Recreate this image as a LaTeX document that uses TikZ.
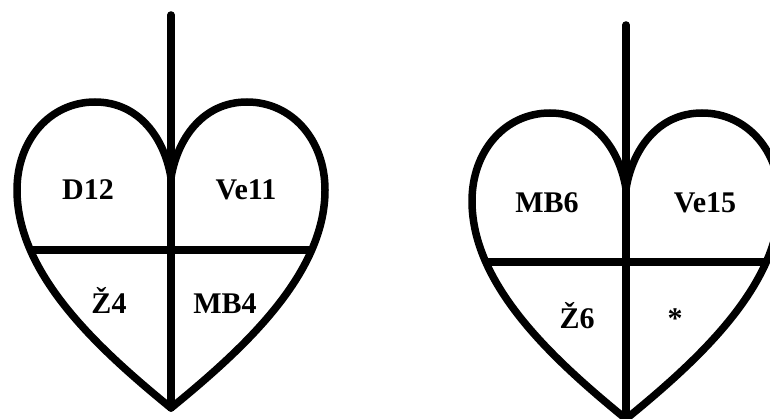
\documentclass[tikz,border=0pt]{standalone}
\usepackage{fontspec}
\setmainfont{Liberation Serif}
\begin{document}
\begin{tikzpicture}[x=1pt,y=-1pt,
  outline/.style={line width=7.5pt,line join=round},
  rib/.style={line width=7.5pt},
  lbl/.style={font=\fontsize{30}{32}\selectfont\bfseries,anchor=base,inner sep=0pt}]
\useasboundingbox (0,0) rectangle (770,419);

% heart outline with its tip at the origin of the current shift
\def\heartpath{(0,230) .. controls (-71,172) and (-154,97) .. (-154,12)
  .. controls (-154,-38) and (-121,-76) .. (-76,-76)
  .. controls (-31,-76) and (-6,-38) .. (0,0)
  .. controls (6,-38) and (31,-76) .. (76,-76)
  .. controls (121,-76) and (154,-38) .. (154,12)
  .. controls (154,97) and (71,172) .. (0,230) -- cycle}

% left heart
\begin{scope}[shift={(171,178)}]
  \coordinate (stemA) at (0,-163);
  \coordinate (tipA) at (0,230);
  \begin{scope}
    \clip \heartpath;
    \draw[rib] (-200,72) -- (200,72);
  \end{scope}
  \draw[outline] \heartpath;
  \draw[rib,line cap=round] (stemA) -- (tipA);
\end{scope}

% right heart
\begin{scope}[shift={(626,189)}]
  \coordinate (stemB) at (0,-164);
  \coordinate (tipB) at (0,230);
  \begin{scope}
    \clip \heartpath;
    \draw[rib] (-200,73) -- (200,73);
  \end{scope}
  \draw[outline] \heartpath;
  \draw[rib,line cap=round] (stemB) -- (tipB);
\end{scope}

\node[lbl] (d12) at (88,200) {D12};
\node[lbl] (ve11) at (246,200) {Ve11};
\node[lbl] (z4) at (109,313) {Ž4};
\node[lbl] (mb4) at (225,313) {MB4};

\node[lbl] (mb6) at (547,213) {MB6};
\node[lbl] (ve15) at (705,213) {Ve15};
\node[lbl] (z6) at (577,328) {Ž6};
\node[lbl] (star) at (675,328) {*};
\end{tikzpicture}
\end{document}
